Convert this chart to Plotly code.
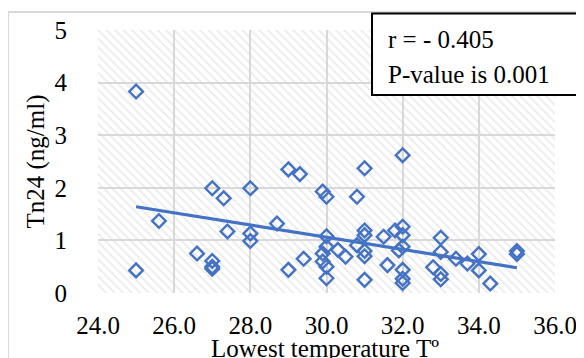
import plotly.graph_objects as go

# Data
temp = [25.0, 25.0, 25.6, 26.6, 27.0, 27.0, 27.0, 27.0, 27.3, 27.4,
        28.0, 28.0, 28.0, 28.7, 29.0, 29.0, 29.3, 29.4, 29.9, 30.0,
        30.0, 30.0, 29.9, 29.9, 30.0, 30.0, 30.3, 30.5, 30.8, 30.8,
        31.0, 31.0, 31.0, 31.0, 31.0, 31.0, 31.5, 31.6, 31.8, 32.0,
        32.0, 32.0, 32.0, 31.9, 32.0, 32.0, 32.0, 32.8, 33.0, 33.0,
        33.0, 33.0, 33.4, 33.7, 34.0, 34.0, 34.3, 35.0, 35.0]
tn24 = [3.83, 0.43, 1.37, 0.75, 1.99, 0.61, 0.50, 0.46, 1.80, 1.17,
        1.99, 1.13, 0.99, 1.32, 2.35, 0.44, 2.26, 0.65, 1.93, 1.83,
        1.08, 0.88, 0.75, 0.60, 0.50, 0.28, 0.82, 0.69, 1.83, 0.91,
        2.37, 1.19, 1.10, 0.80, 0.70, 0.25, 1.07, 0.53, 1.19, 2.62,
        1.26, 1.10, 0.88, 0.81, 0.44, 0.27, 0.19, 0.49, 1.05, 0.78,
        0.36, 0.26, 0.65, 0.56, 0.74, 0.43, 0.18, 0.80, 0.74]

trend_x = [25.0, 35.0]
trend_y = [1.64, 0.48]

x_ticks = [24, 26, 28, 30, 32, 34, 36]
x_tick_labels = ["24.0", "26.0", "28.0", "30.0", "32.0", "34.0", "36.0"]
y_ticks = [0, 1, 2, 3, 4, 5]
x_range = [24, 36]
y_range = [0, 5]

x_title = "Lowest temperature Tº"
y_title = "Tn24 (ng/ml)"
stat_lines = ["r = - 0.405", "P-value is 0.001"]

FONT = "Liberation Serif"
FS = 25
BLUE = "#4472C4"
GRID = "#d9d9d9"

fig = go.Figure()

# hatched plot background
fig.add_trace(go.Scatter(
    x=[x_range[0], x_range[1], x_range[1], x_range[0], x_range[0]],
    y=[y_range[0], y_range[0], y_range[1], y_range[1], y_range[0]],
    mode="lines", line=dict(width=0), fill="toself",
    fillcolor="rgba(0,0,0,0)",
    fillpattern=dict(shape="\\", fgcolor="#d6d6d6", bgcolor="rgba(0,0,0,0)",
                     size=6, solidity=0.3),
    hoverinfo="skip", showlegend=False))

fig.add_trace(go.Scatter(
    x=temp, y=tn24, mode="markers",
    marker=dict(symbol="diamond-open", size=10.5, color=BLUE,
                line=dict(width=2.4, color=BLUE)),
    showlegend=False))

fig.add_trace(go.Scatter(
    x=trend_x, y=trend_y, mode="lines",
    line=dict(color=BLUE, width=3.2), showlegend=False))

fig.update_xaxes(
    range=x_range, tickvals=x_ticks, ticktext=x_tick_labels,
    showgrid=True, gridcolor=GRID, gridwidth=2, zeroline=False,
    showline=False, ticks="", ticklabelstandoff=15, automargin=False,
    tickfont=dict(family=FONT, size=FS, color="black"))
fig.update_yaxes(
    range=y_range, tickvals=y_ticks,
    showgrid=True, gridcolor=GRID, gridwidth=2, zeroline=False,
    showline=False, ticks="", ticklabelstandoff=30, automargin=False,
    tickfont=dict(family=FONT, size=FS, color="black"),
    title=dict(text=y_title, standoff=2,
               font=dict(family=FONT, size=FS, color="black")))

shapes = [
    # outer chart frame (light gray)
    dict(type="line", xref="paper", yref="paper", x0=-0.197, x1=1.3,
         y0=1.0685, y1=1.0685, line=dict(color=GRID, width=2)),
    dict(type="line", xref="paper", yref="paper", x0=-0.197, x1=-0.197,
         y0=-0.4, y1=1.0685, line=dict(color=GRID, width=2)),
    # stats box
    dict(type="rect", xref="paper", yref="paper", x0=0.5996, x1=1.2,
         y0=0.7526, y1=1.0628, fillcolor="white",
         line=dict(color="black", width=2), layer="above"),
]

annotations = [
    dict(text=stat_lines[0], xref="paper", yref="paper", x=0.631, y=0.962,
         xanchor="left", yanchor="middle", showarrow=False,
         font=dict(family=FONT, size=FS, color="black")),
    dict(text=stat_lines[1], xref="paper", yref="paper", x=0.631, y=0.832,
         xanchor="left", yanchor="middle", showarrow=False,
         font=dict(family=FONT, size=FS, color="black")),
    dict(text=x_title, xref="paper", yref="paper", x=0.497, y=-0.21,
         xanchor="center", yanchor="middle", showarrow=False,
         font=dict(family=FONT, size=FS, color="black")),
]

# page adds an 8px body margin, so the figure is 8px smaller each way
fig.update_layout(
    width=576, height=350,
    margin=dict(l=90, r=29, t=22, b=65),
    paper_bgcolor="white", plot_bgcolor="white",
    shapes=shapes, annotations=annotations,
    showlegend=False,
)

fig.write_html("out.html")
